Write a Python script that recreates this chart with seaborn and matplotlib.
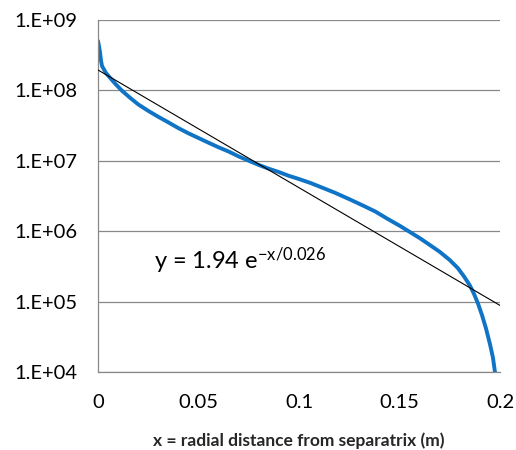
import numpy as np
import pandas as pd
import matplotlib
matplotlib.use('Agg')
import matplotlib.pyplot as plt
import seaborn as sns

# blue curve
x_data = [0, 0.0005, 0.001, 0.0015, 0.002, 0.004, 0.006, 0.009, 0.012, 0.016,
          0.020, 0.025, 0.030, 0.035, 0.040, 0.045, 0.050, 0.055, 0.060, 0.065,
          0.070, 0.075, 0.080, 0.085, 0.090, 0.095, 0.100, 0.106, 0.112, 0.118,
          0.125, 0.132, 0.138, 0.144, 0.150, 0.155, 0.160, 0.165, 0.170, 0.175,
          0.179, 0.182, 0.185, 0.187, 0.189, 0.191, 0.193, 0.195, 0.1965, 0.1975]
y_data = [5.0e8, 4.2e8, 3.4e8, 2.6e8, 2.2e8, 1.75e8, 1.5e8, 1.2e8, 9.8e7, 7.8e7,
          6.3e7, 5.1e7, 4.2e7, 3.5e7, 2.9e7, 2.45e7, 2.1e7, 1.8e7, 1.55e7, 1.35e7,
          1.15e7, 1.0e7, 8.7e6, 7.7e6, 6.9e6, 6.1e6, 5.5e6, 4.8e6, 4.1e6, 3.5e6,
          2.85e6, 2.3e6, 1.9e6, 1.5e6, 1.2e6, 9.8e5, 8.0e5, 6.4e5, 5.1e5, 3.9e5,
          3.0e5, 2.3e5, 1.7e5, 1.3e5, 9.5e4, 6.5e4, 4.2e4, 2.5e4, 1.6e4, 1.0e4]

# exponential fit y = A exp(-x/L)
fit_a = 1.94e8
fit_l = 0.026
fit_x = [0, 0.2]

y_ticks = [1e4, 1e5, 1e6, 1e7, 1e8, 1e9]
y_labels = ['1.E+04', '1.E+05', '1.E+06', '1.E+07', '1.E+08', '1.E+09']
x_ticks = [0, 0.05, 0.1, 0.15, 0.2]
x_labels = ['0', '0.05', '0.1', '0.15', '0.2']

sns.set_style('white')
plt.rcParams['font.family'] = ['Lato', 'DejaVu Sans']
plt.rcParams['mathtext.fontset'] = 'custom'
plt.rcParams['mathtext.rm'] = 'Lato'
plt.rcParams['mathtext.default'] = 'regular'

fig = plt.figure(figsize=(5.16, 4.5), dpi=100)
ax = fig.add_axes([0.19, 0.173, 0.779, 0.783])

df = pd.DataFrame({'x': x_data, 'y': y_data})
fx = np.linspace(fit_x[0], fit_x[1], 50)
fit_df = pd.DataFrame({'x': fx, 'y': fit_a * np.exp(-fx / fit_l)})

sns.lineplot(data=fit_df, x='x', y='y', ax=ax, color='black', lw=0.8, zorder=3)
sns.lineplot(data=df, x='x', y='y', ax=ax, color='#0f73c6', lw=2.8, zorder=2)

ax.set_yscale('log')
ax.set_xlim(0, 0.2)
ax.set_ylim(1e4, 1e9)
ax.set_yticks(y_ticks)
ax.set_yticklabels(y_labels)
ax.set_xticks(x_ticks)
ax.set_xticklabels(x_labels)
ax.yaxis.set_minor_locator(matplotlib.ticker.NullLocator())
ax.grid(axis='y', color='#888888', lw=0.9)
ax.set_axisbelow(True)

for s in ['top', 'right']:
    ax.spines[s].set_visible(False)
for s in ['left', 'bottom']:
    ax.spines[s].set_color('#888888')
    ax.spines[s].set_linewidth(0.9)
ax.tick_params(axis='both', which='major', direction='out', length=6,
               color='#888888', labelsize=14.5, labelcolor='black')
ax.tick_params(axis='x', pad=10)
ax.tick_params(axis='y', pad=9)

ax.set_xlabel('x = radial distance from separatrix (m)', fontsize=12.5,
              fontweight='bold', labelpad=15)
ax.set_ylabel('')

ax.text(0.028, 2.9e5, r'y = 1.94 e$^{-x/0.026}$', fontsize=17, color='black')

fig.savefig('out.png', dpi=100, facecolor='white')
